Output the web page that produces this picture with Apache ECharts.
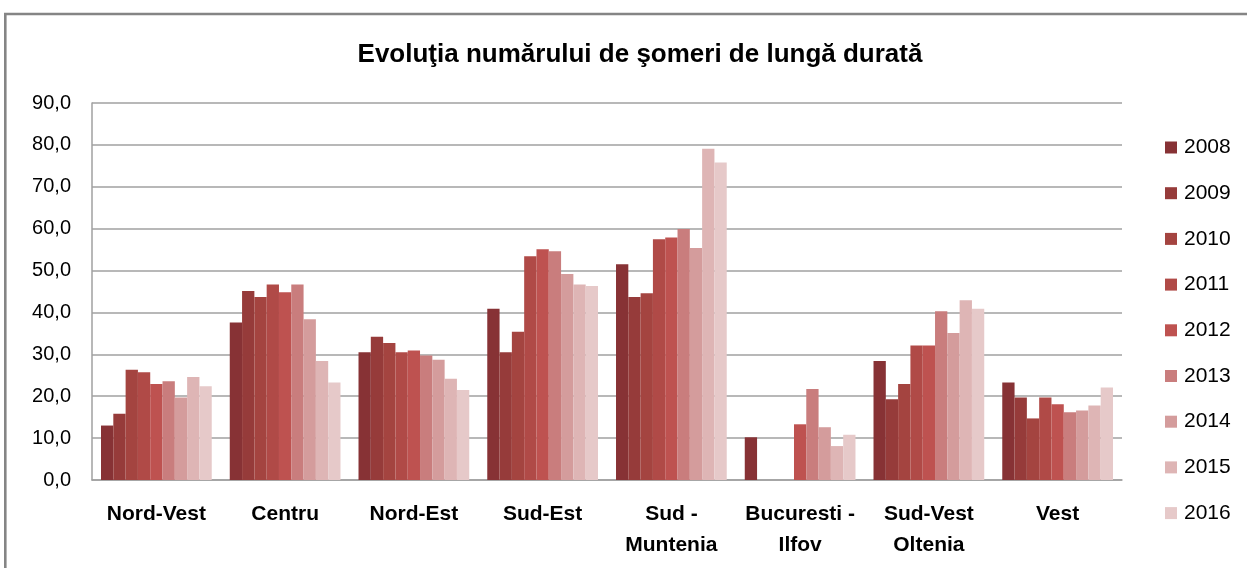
<!DOCTYPE html>
<html><head><meta charset="utf-8">
<script src="https://cdn.jsdelivr.net/npm/echarts@6/dist/echarts.min.js"></script>
<style>html,body{margin:0;padding:0;background:#fff;}#c{width:1247px;height:568px;}</style>
</head><body><div id="c"></div>
<script>
const categories = ['Nord-Vest','Centru','Nord-Est','Sud-Est','Sud -\nMuntenia','Bucuresti -\nIlfov','Sud-Vest\nOltenia','Vest'];
const years = ['2008','2009','2010','2011','2012','2013','2014','2015','2016'];
const yTicks = [0,10,20,30,40,50,60,70,80,90];
// values per year, in category order
const v2008 = [13.0, 37.6, 30.5, 40.9, 51.5, 10.2, 28.4, 23.3];
const v2009 = [15.8, 45.1, 34.2, 30.5, 43.7, null, 19.3, 19.7];
const v2010 = [26.3, 43.7, 32.7, 35.4, 44.6, null, 22.9, 14.7];
const v2011 = [25.7, 46.7, 30.5, 53.4, 57.5, null, 32.1, 19.7];
const v2012 = [22.9, 44.8, 30.9, 55.1, 57.9, 13.3, 32.1, 18.1];
const v2013 = [23.6, 46.7, 29.7, 54.6, 59.9, 21.7, 40.3, 16.2];
const v2014 = [19.7, 38.4, 28.7, 49.2, 55.4, 12.6, 35.1, 16.6];
const v2015 = [24.6, 28.4, 24.2, 46.7, 79.1, 8.1, 42.9, 17.8];
const v2016 = [22.4, 23.3, 21.5, 46.3, 75.8, 10.8, 40.9, 22.1];
const seriesValues = [v2008,v2009,v2010,v2011,v2012,v2013,v2014,v2015,v2016];
const colors = ['#873235','#963B3A','#A44440','#B04A47','#BE5250','#C97D7D','#D49C9C','#DEB5B5','#E6C9C9'];

const chart = echarts.init(document.getElementById('c'), null, {renderer:'canvas'});
chart.setOption({
  animation:false,
  backgroundColor:'#fff',
  color: colors,
  title:{
    text:'Evoluţia numărului de şomeri de lungă durată',
    left:635, top:37, textAlign:'center',
    textStyle:{fontFamily:'"Liberation Sans",Arial,sans-serif',fontWeight:'bold',fontSize:26,color:'#000'}
  },
  graphic:[{type:'rect',shape:{x:5.3,y:14,width:1400,height:800},style:{fill:'none',stroke:'#858585',lineWidth:2.6},silent:true}],
  legend:{
    orient:'vertical', left:1160, top:132, itemWidth:12, itemHeight:12, itemGap:24.7,
    icon:'rect',
    data: years,
    textStyle:{fontFamily:'"Liberation Sans",Arial,sans-serif',fontSize:21,lineHeight:21,color:'#000',padding:[0,0,0,2]}
  },
  grid:{left:92,right:125,top:103,bottom:88,containLabel:false},
  xAxis:{
    type:'category', data:categories,
    axisLine:{lineStyle:{color:'#A0A0A0',width:1.5}},
    axisTick:{show:false},
    axisLabel:{margin:19,fontFamily:'"Liberation Sans",Arial,sans-serif',fontWeight:'bold',fontSize:21,lineHeight:31,color:'#000',interval:0}
  },
  yAxis:{
    type:'value', min:0, max:90, interval:10,
    axisLine:{show:true,lineStyle:{color:'#A0A0A0',width:1.5}},
    axisTick:{show:false},
    splitLine:{lineStyle:{color:'#A0A0A0',width:1.5}},
    axisLabel:{margin:21,fontFamily:'"Liberation Sans",Arial,sans-serif',fontSize:20,color:'#000',
      formatter:function(v){return yTicks.indexOf(v)>=0 ? v.toFixed(1).replace('.',',') : '';}}
  },
  series: years.map(function(y,i){return {name:y,type:'bar',data:seriesValues[i],barGap:'0%',barCategoryGap:'14%',itemStyle:{color:colors[i]}};})
});
</script></body></html>
